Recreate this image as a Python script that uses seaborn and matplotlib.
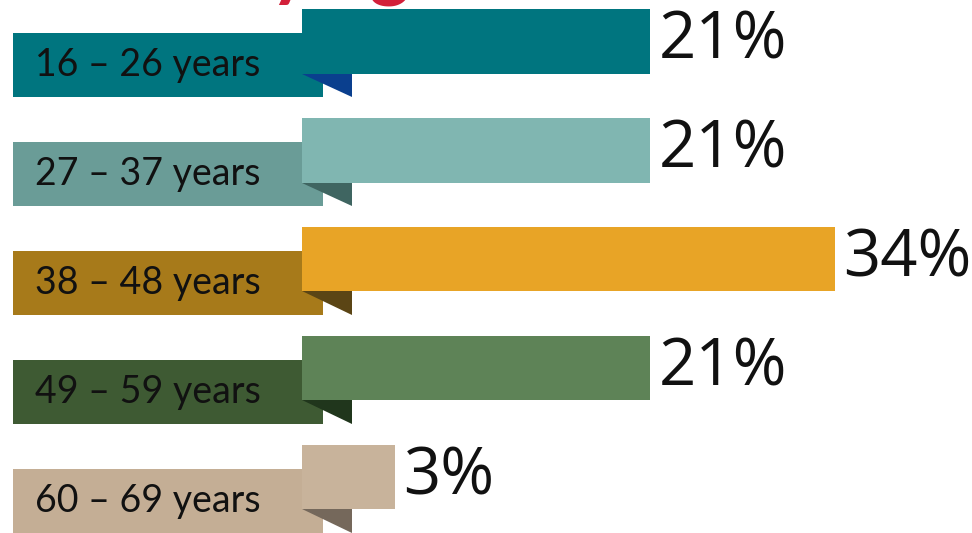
import matplotlib
matplotlib.use("Agg")
import matplotlib.pyplot as plt
from matplotlib.patches import Rectangle, Polygon
import seaborn as sns

# data
age_groups = ["16 – 26 years", "27 – 37 years", "38 – 48 years", "49 – 59 years", "60 – 69 years"]
shares = [21, 21, 34, 21, 3]

# colours: bar, ribbon box, ribbon fold
bar_colors = ["#00757F", "#80B6B1", "#E8A426", "#5E8357", "#C8B39B"]
box_colors = ["#00757F", "#6A9C97", "#A77A1A", "#3E5A33", "#C4AE95"]
fold_colors = ["#0A3F8E", "#3F6561", "#5B4515", "#20361C", "#75685B"]

sns.set_style("white")
plt.rcParams["font.family"] = ["Lato", "DejaVu Sans"]

fig = plt.figure(figsize=(9.72, 5.33), dpi=100)
ax = fig.add_axes([0, 0, 1, 1])

bar_h = 0.59
sns.barplot(x=shares, y=age_groups, hue=age_groups, palette=bar_colors,
            legend=False, orient="h", width=bar_h, saturation=1, ax=ax)

# bars start a little left of zero, under the ribbon
stub = 3.52
for p in ax.patches:
    p.set_x(p.get_x() - stub)
    p.set_width(p.get_width() + stub)
    p.set_zorder(3)
    p.set_linewidth(0)

box_left, box_right = -23.87, -2.04
drop = 0.216
for i, label in enumerate(age_groups):
    # ribbon box behind the bar
    ax.add_patch(Rectangle((box_left, i - bar_h / 2 + drop), box_right - box_left, bar_h,
                           color=box_colors[i], zorder=1, lw=0))
    # folded corner
    top = i + bar_h / 2
    ax.add_patch(Polygon([(-stub, top), (0, top), (0, top + drop)],
                         closed=True, color=fold_colors[i], zorder=2, lw=0))
    ax.text(-22.32, i + drop, label, fontsize=27, color="#111111",
            va="center", ha="left", zorder=4)
    ax.text(shares[i] + 0.6, i, f"{shares[i]}%", fontsize=47,
            family=["Open Sans", "DejaVu Sans"], color="#111111",
            va="center", ha="left", zorder=4)

ax.set_xlim(-24.79, 43.66)
ax.set_ylim(4.513, -0.381)
ax.axis("off")

# title cut off at the top of the picture (only descenders show)
fig.text(0.232, 1.018, "by age", fontsize=56, fontweight="bold", color="#D3203A",
         ha="left", va="baseline")

fig.savefig("out.png", dpi=100)
